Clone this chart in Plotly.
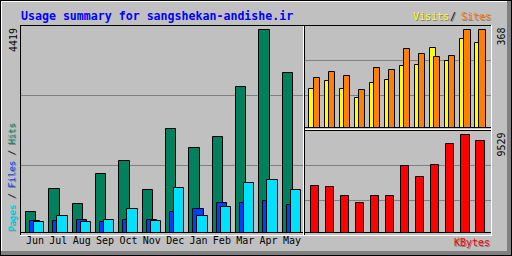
import plotly.graph_objects as go

# ---------------- data ----------------
months = ["Jun", "Jul", "Aug", "Sep", "Oct", "Nov", "Dec", "Jan", "Feb", "Mar", "Apr", "May"]
hits   = [451, 951, 625, 1278, 1561, 930, 2257, 1844, 2083, 3172, 4419, 3476]
files  = [261, 261, 283, 218, 283, 283, 457, 501, 653, 653, 675, 609]
pages  = [218, 370, 218, 283, 501, 240, 973, 370, 559, 1082, 1147, 930]
visits = [144, 174, 144, 110, 166, 178, 230, 234, 298, 249, 334, 317]
sites  = [185, 208, 193, 140, 223, 215, 294, 275, 264, 268, 368, 368]
kbytes = [4570, 4405, 3530, 2850, 3530, 3530, 6447, 5377, 6544, 8586, 9529, 8878]
max_hits, max_sites, max_kbytes = 4419, 368, 9529
title = "Usage summary for sangshekan-andishe.ir"

# ---------------- style ----------------
W, H = 512, 256
GREY, DKGREY = "#C0C0C0", "#808080"
C_HITS, C_FILES, C_PAGES = "#00805C", "#0040FF", "#00E0FF"
C_VISITS, C_SITES, C_KB = "#FFFF00", "#FF8000", "#FF0000"
MONO = "DejaVu Sans Mono"

def px(x):
    return x / W

def py(y):
    return 1 - y / H

idx = list(range(len(months)))
edge = dict(color="black", width=1)

fig = go.Figure()
# main panel: hits, files, pages
fig.add_trace(go.Bar(x=idx, y=hits, xaxis="x", yaxis="y", width=0.445, offset=-0.2226,
                     marker=dict(color=C_HITS, line=edge)))
fig.add_trace(go.Bar(x=idx, y=files, xaxis="x", yaxis="y", width=0.445, offset=-0.0514,
                     marker=dict(color=C_FILES, line=edge)))
fig.add_trace(go.Bar(x=idx, y=pages, xaxis="x", yaxis="y", width=0.445, offset=0.1199,
                     marker=dict(color=C_PAGES, line=edge)))
# right top: visits, sites
fig.add_trace(go.Bar(x=idx, y=visits, xaxis="x2", yaxis="y2", width=0.426, offset=-0.346,
                     marker=dict(color=C_VISITS, line=edge)))
fig.add_trace(go.Bar(x=idx, y=sites, xaxis="x2", yaxis="y2", width=0.426, offset=-0.060,
                     marker=dict(color=C_SITES, line=edge)))
# right bottom: kbytes
fig.add_trace(go.Bar(x=idx, y=kbytes, xaxis="x3", yaxis="y3", width=0.559, offset=-0.259,
                     marker=dict(color=C_KB, line=edge)))

# ---------------- decoration shapes ----------------
shapes = []

def hline(row, c0, c1, color, layer="above"):
    shapes.append(dict(type="line", xref="paper", yref="paper",
                       x0=px(c0), x1=px(c1 + 1), y0=py(row + 0.5), y1=py(row + 0.5),
                       line=dict(color=color, width=1), layer=layer))

def vline(col, r0, r1, color, layer="above"):
    shapes.append(dict(type="line", xref="paper", yref="paper",
                       x0=px(col + 0.5), x1=px(col + 0.5), y0=py(r0), y1=py(r1 + 1),
                       line=dict(color=color, width=1), layer=layer))

def band(c0, r0, c1, r1, color):
    shapes.append(dict(type="rect", xref="paper", yref="paper",
                       x0=px(c0), x1=px(c1 + 1), y0=py(r1 + 1), y1=py(r0),
                       fillcolor=color, line=dict(width=0), layer="above"))

# grid lines
for r in (95, 165):
    hline(r, 21, 303, DKGREY, "below")
for r in (60, 95):
    hline(r, 305, 490, DKGREY, "below")
for r in (165, 200):
    hline(r, 305, 490, DKGREY, "below")

# outer frame
band(507, 1, 510, 254, DKGREY)
band(1, 251, 510, 254, DKGREY)
hline(1, 1, 506, "white")
vline(1, 1, 250, "white")
hline(0, 0, 511, "black")
hline(255, 0, 511, "black")
vline(0, 0, 255, "black")
vline(511, 0, 255, "black")

# panel frame
hline(25, 20, 491, "black")
vline(20, 25, 235, "black")
hline(235, 20, 491, "white")
vline(491, 25, 235, "white")
# main panel
hline(232, 21, 303, "black")
vline(303, 26, 234, "white")
vline(304, 26, 234, "black")
# right top panel
hline(127, 305, 490, "black")
hline(129, 305, 490, "white")
# right bottom panel
hline(130, 305, 490, "black")
hline(232, 305, 490, "black")

# ---------------- text ----------------
ann = []

def text(x, y, s, color, size=10, xanchor="left", yanchor="middle", angle=0,
         shadow=False, bold=False):
    fam = MONO
    s_txt = "<b>" + s + "</b>" if bold else s
    if shadow:
        ann.append(dict(x=px(x), y=py(y), xref="paper", yref="paper", text=s_txt,
                        showarrow=False, xanchor=xanchor, yanchor=yanchor, textangle=angle,
                        xshift=1, yshift=-1, borderpad=0,
                        font=dict(family=fam, size=size, color=DKGREY)))
    ann.append(dict(x=px(x), y=py(y), xref="paper", yref="paper", text=s_txt,
                    showarrow=False, xanchor=xanchor, yanchor=yanchor, textangle=angle,
                    borderpad=0, font=dict(family=fam, size=size, color=color)))

text(19.5, 15.5, title, "#0000FF", size=11.6, bold=True)
text(411.5, 16.5, "Visits", C_VISITS, shadow=True)
text(453, 16.5, "/", "black", xanchor="center", shadow=True)
text(459.5, 16.5, "Sites", C_SITES, shadow=True)
text(452.5, 242, "KBytes", C_KB, shadow=True)

lbl = ('<span style="color:%s">Pages</span> / <span style="color:%s">Files</span>'
       ' / <span style="color:%s">Hits</span>') % (C_PAGES, C_FILES, C_HITS)
lbl_sh = "Pages / Files / Hits"
ann.append(dict(x=px(12), y=py(232), xref="paper", yref="paper", text=lbl_sh,
                showarrow=False, xanchor="center", yanchor="bottom", textangle=-90,
                xshift=1, yshift=-1, borderpad=0, font=dict(family=MONO, size=9, color=DKGREY)))
ann.append(dict(x=px(12), y=py(232), xref="paper", yref="paper", text=lbl,
                showarrow=False, xanchor="center", yanchor="bottom", textangle=-90,
                borderpad=0, font=dict(family=MONO, size=9, color="black")))

text(13, 27, str(max_hits), "black", xanchor="center", yanchor="top", angle=-90)
text(500.5, 27, str(max_sites), "black", xanchor="center", yanchor="top", angle=-90)
text(500.5, 132, str(max_kbytes), "black", xanchor="center", yanchor="top", angle=-90)

# ---------------- layout ----------------
hidden = dict(visible=False, fixedrange=True)
fig.update_layout(
    width=W, height=H, margin=dict(l=0, r=0, t=0, b=0),
    paper_bgcolor=GREY, plot_bgcolor="rgba(0,0,0,0)",
    barmode="overlay", showlegend=False, bargap=0,
    xaxis=dict(domain=[px(20), px(305)], range=[-0.4709, 11.729], anchor="y",
               tickvals=[i + 0.171 for i in idx], ticktext=months, ticks="",
               showgrid=False, zeroline=False, showline=False, fixedrange=True,
               tickfont=dict(family=MONO, size=10, color="black")),
    yaxis=dict(domain=[py(232.5), py(25)], range=[0, max_hits * 207.5 / 203.0], anchor="x", **hidden),
    xaxis2=dict(domain=[px(305), px(491)], range=[-0.645, 11.73], anchor="y2", **hidden),
    yaxis2=dict(domain=[py(127.5), py(25)], range=[0, max_sites * 102.5 / 98.0], anchor="x2", **hidden),
    xaxis3=dict(domain=[px(305), px(491)], range=[-0.645, 11.73], anchor="y3", **hidden),
    yaxis3=dict(domain=[py(232.5), py(130)], range=[0, max_kbytes * 102.5 / 98.0], anchor="x3", **hidden),
    shapes=shapes, annotations=ann,
)

fig.write_html("out.html")
